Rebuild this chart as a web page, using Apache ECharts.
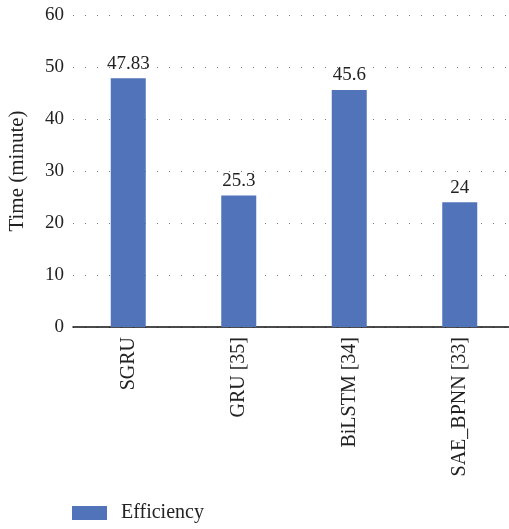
<!DOCTYPE html>
<html>
<head>
<meta charset="utf-8">
<style>
  html, body { margin: 0; padding: 0; background: #ffffff; }
  #chart { width: 509px; height: 529px; }
</style>
<script src="https://cdn.jsdelivr.net/npm/echarts@6/dist/echarts.min.js"></script>
</head>
<body>
<div id="chart"></div>
<script>
// Training time of each model
const categories = ['SGRU', 'GRU [35]', 'BiLSTM [34]', 'SAE_BPNN [33]'];
const efficiency = [47.83, 25.3, 45.6, 24];
const seriesName = 'Efficiency';
const yAxisName = 'Time (minute)';

const serif = '"Liberation Serif", "DejaVu Serif", serif';
const chart = echarts.init(document.getElementById('chart'), null, { renderer: 'canvas' });

chart.setOption({
  animation: false,
  backgroundColor: '#ffffff',
  textStyle: { fontFamily: serif },
  grid: { left: 73, top: 15, width: 442, height: 312, containLabel: false, outerBoundsMode: 'none' },
  legend: {
    left: 67,
    top: 498,
    itemWidth: 35,
    itemHeight: 14,
    itemGap: 10,
    textStyle: { fontFamily: serif, fontSize: 20, color: '#222222', padding: [0, 0, 0, 9] },
    data: [{ name: seriesName, icon: 'rect' }]
  },
  xAxis: {
    type: 'category',
    data: categories,
    axisLine: { show: true, lineStyle: { color: '#111111', width: 1.5 } },
    axisTick: { show: false },
    axisLabel: {
      rotate: 90,
      interval: 0,
      margin: 10,
      fontFamily: serif,
      fontSize: 20,
      color: '#222222'
    }
  },
  yAxis: {
    type: 'value',
    min: 0,
    max: 60,
    interval: 10,
    name: yAxisName,
    nameLocation: 'middle',
    nameGap: 45,
    nameTextStyle: { fontFamily: serif, fontSize: 21, color: '#222222' },
    axisLine: { show: false },
    axisTick: { show: false },
    axisLabel: { fontFamily: serif, fontSize: 19, color: '#222222', margin: 9 },
    splitLine: { show: true, lineStyle: { color: '#777777', type: [1, 11], width: 1 } }
  },
  series: [{
    name: seriesName,
    type: 'bar',
    data: efficiency,
    barWidth: 35,
    itemStyle: { color: '#5173b9' },
    label: {
      show: true,
      position: 'top',
      distance: 5,
      fontFamily: serif,
      fontSize: 19,
      color: '#222222'
    }
  }]
});
</script>
</body>
</html>
